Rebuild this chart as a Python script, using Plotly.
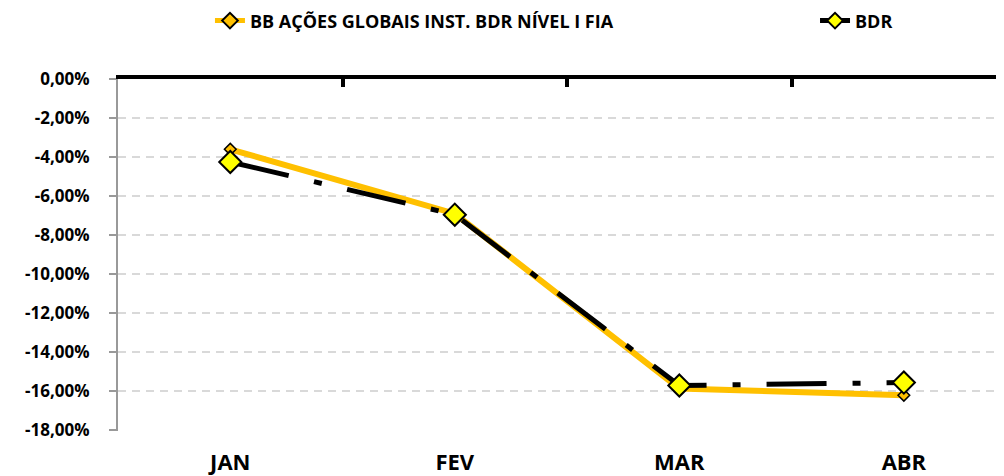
import plotly.graph_objects as go

categories = ["JAN", "FEV", "MAR", "ABR"]
bb_fund = [-3.6, -6.9, -15.85, -16.2]
bdr_index = [-4.25, -6.95, -15.7, -15.55]
y_tick_values = [0, -2, -4, -6, -8, -10, -12, -14, -16, -18]
y_tick_labels = ["0,00%", "-2,00%", "-4,00%", "-6,00%", "-8,00%", "-10,00%",
                 "-12,00%", "-14,00%", "-16,00%", "-18,00%"]
series_names = ["BB AÇÕES GLOBAIS INST. BDR NÍVEL I FIA", "BDR"]

FONT = "Open Sans"
x_range = [-0.5, 3.446]
legend_font = dict(family=FONT, size=18, color="black", weight="bold")

fig = go.Figure()
fig.add_trace(go.Scatter(
    x=categories, y=bb_fund, name=series_names[0], mode="lines+markers",
    line=dict(color="#FFC000", width=6),
    marker=dict(symbol="diamond", size=9, color="#FFC000",
                line=dict(color="black", width=1.5)),
    legend="legend",
))
fig.add_trace(go.Scatter(
    x=categories, y=bdr_index, name=series_names[1], mode="lines+markers",
    line=dict(color="black", width=5, dash="60px,26px,8px,26px"),
    marker=dict(symbol="diamond", size=17, color="#FFFF00",
                line=dict(color="black", width=2)),
    legend="legend2",
))
# invisible trace to keep the top axis line drawn
fig.add_trace(go.Scatter(x=[0], y=[0], xaxis="x2", mode="markers",
                         marker=dict(opacity=0), showlegend=False, hoverinfo="skip"))

fig.update_layout(
    width=996, height=468,
    margin=dict(l=110, r=0, t=71, b=45, autoexpand=False),
    paper_bgcolor="white", plot_bgcolor="white",
    font=dict(family=FONT, color="black"),
    showlegend=True,
    legend=dict(orientation="h", x=0.1038, xanchor="left", y=1.165, yanchor="middle",
                font=legend_font, itemsizing="constant",
                bgcolor="rgba(0,0,0,0)"),
    legend2=dict(orientation="h", x=0.7867, xanchor="left", y=1.165, yanchor="middle",
                 font=legend_font, itemsizing="constant",
                 bgcolor="rgba(0,0,0,0)"),
    xaxis=dict(
        range=x_range, showline=False, showgrid=False, zeroline=False, ticks="",
        tickfont=dict(family=FONT, size=22, color="black", weight="bold"),
        ticklabelstandoff=16,
    ),
    xaxis2=dict(
        overlaying="x", side="top", anchor="y", range=x_range,
        showline=True, linecolor="black", linewidth=4,
        ticks="inside", ticklen=8, tickwidth=4, tickcolor="black",
        tickmode="array", tickvals=[-0.5, 0.5, 1.5, 2.5], showticklabels=False,
        showgrid=False, zeroline=False,
    ),
    yaxis=dict(
        range=[-18.03, 0], showline=True, linecolor="#999999", linewidth=2,
        ticks="outside", ticklen=7, tickwidth=2, tickcolor="#999999",
        tickmode="array", tickvals=y_tick_values, ticktext=y_tick_labels,
        tickfont=dict(family=FONT, size=17, color="black", weight="bold"),
        ticklabelstandoff=16,
        showgrid=True, gridcolor="#D9D9D9", gridwidth=2, griddash="8px,6px",
        zeroline=False,
    ),
)

fig.write_html("out.html")
